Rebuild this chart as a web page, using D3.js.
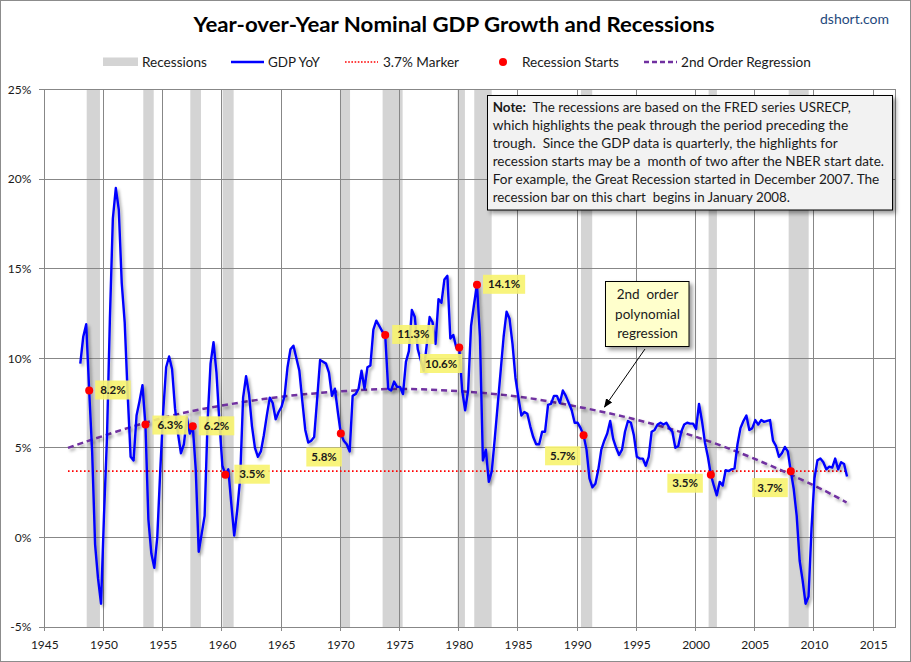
<!DOCTYPE html>
<html><head><meta charset="utf-8">
<script src="https://cdn.jsdelivr.net/npm/d3@7"></script>
<style>
body{margin:0;background:#fff}
svg{display:block}
text{font-family:Lato,"Open Sans",sans-serif;fill:#1a1a1a}
</style>
</head><body>
<svg id="chart" width="911" height="662"></svg>
<script>
// ---------------- DATA ----------------
const startYear = 1948; // first quarter of the series (1948 Q1)
const gdpYoY = [
  9.7, 11.2, 11.9, 8.2,     // 1948
  4.8, -0.4, -2.3, -3.7,    // 1949
  1.2, 5.5, 12.2, 17.8,     // 1950
  19.5, 18.3, 14.2, 12.0,   // 1951
  8.0, 4.5, 4.3, 6.8,       // 1952
  7.6, 8.5, 6.3, 1.0,       // 1953
  -0.9, -1.7, 0.0, 3.7,     // 1954
  7.0, 9.5, 10.1, 9.4,      // 1955
  7.2, 5.8, 4.7, 5.2,       // 1956
  6.7, 5.8, 6.2, 3.8,       // 1957
  -0.8, 0.2, 1.2, 6.5,      // 1958
  9.7, 10.9, 9.2, 6.4,      // 1959
  4.0, 3.5, 3.8, 1.9,       // 1960
  0.1, 1.5, 3.3, 7.8,       // 1961
  9.0, 8.0, 6.2, 5.0,       // 1962
  4.5, 4.8, 5.7, 6.8,       // 1963
  7.8, 7.5, 6.6, 7.0,       // 1964
  7.3, 7.9, 9.5, 10.5,      // 1965
  10.7, 10.0, 9.3, 7.6,     // 1966
  6.0, 5.3, 5.4, 5.6,       // 1967
  7.7, 9.9, 9.8, 9.7,       // 1968
  9.2, 7.9, 8.3, 7.0,       // 1969
  5.8, 5.4, 5.2, 4.8,       // 1970
  7.9, 8.0, 8.3, 9.3,       // 1971
  8.3, 9.5, 9.6, 11.6,      // 1972
  12.1, 11.8, 11.5, 11.3,   // 1973
  8.3, 8.2, 8.7, 8.4,       // 1974
  8.4, 8.0, 9.8, 10.4,      // 1975
  12.7, 12.3, 10.5, 9.9,    // 1976
  9.3, 10.7, 12.3, 12.0,    // 1977
  10.8, 13.3, 13.1, 14.4,   // 1978
  14.6, 11.1, 11.3, 10.6,   // 1979
  10.6, 8.2, 7.1, 8.2,      // 1980
  11.8, 13.0, 14.1, 11.2,   // 1981
  4.3, 4.9, 3.1, 3.7,       // 1982
  5.5, 7.4, 9.3, 11.2,      // 1983
  12.6, 12.2, 10.8, 8.9,    // 1984
  7.8, 6.8, 7.0, 6.9,       // 1985
  6.2, 5.6, 5.2, 5.2,       // 1986
  5.9, 5.9, 7.4, 7.45,      // 1987
  7.9, 7.9, 7.5, 8.2,       // 1988
  7.9, 7.5, 7.1, 6.4,       // 1989
  6.4, 6.1, 5.7, 4.9,       // 1990
  3.3, 2.8, 3.0, 3.8,       // 1991
  4.9, 5.4, 5.8, 6.5,       // 1992
  5.5, 5.0, 4.6, 4.9,       // 1993
  5.9, 6.5, 6.4, 5.7,       // 1994
  4.5, 4.4, 4.4, 4.0,       // 1995
  4.5, 5.9, 6.0, 6.3,       // 1996
  6.4, 6.3, 6.4, 6.1,       // 1997
  5.9, 5.0, 5.1, 5.9,       // 1998
  6.3, 6.4, 6.35, 6.35,     // 1999
  6.05, 7.45, 6.5, 5.3,     // 2000
  4.5, 3.5, 2.9, 2.35,      // 2001
  3.1, 2.9, 3.75, 3.7,      // 2002
  3.8, 3.85, 5.2, 6.1,      // 2003
  6.5, 6.8, 6.0, 6.1,       // 2004
  6.55, 6.3, 6.55, 6.45,    // 2005
  6.5, 6.55, 5.4, 5.1,      // 2006
  4.5, 4.7, 5.05, 4.8,      // 2007
  3.7, 2.7, 1.2, -1.3,      // 2008
  -2.4, -3.7, -3.3, 0.5,    // 2009
  3.3, 4.3, 4.4, 4.2,       // 2010
  3.8, 3.95, 3.9, 4.4,      // 2011
  3.8, 4.2, 4.1, 3.4        // 2012
];
const recessionStart = [1948.58, 1953.36, 1957.33, 1960.06, 1969.97, 1973.57, 1979.90, 1981.31, 1990.32, 2001.10, 2007.86];
const recessionEnd   = [1949.70, 1954.24, 1958.23, 1960.99, 1970.82, 1975.26, 1980.52, 1982.78, 1991.27, 2001.80, 2009.55];
const recStartDates  = [1948.75, 1953.5, 1957.5, 1960.25, 1970.0, 1973.75, 1980.0, 1981.5, 1990.5, 2001.25, 2008.0];
const recStartValues = [8.2, 6.3, 6.2, 3.5, 5.8, 11.3, 10.6, 14.1, 5.7, 3.5, 3.7];
const regYears  = [1947, 1950, 1955, 1960, 1965, 1970, 1975, 1980, 1985, 1990, 1995, 2000, 2005, 2010, 2012.75];
const regValues = [5.0, 5.67, 6.67, 7.36, 7.85, 8.15, 8.29, 8.16, 7.86, 7.3, 6.57, 5.62, 4.38, 2.9, 1.95];
const markerValue = 3.7;
const markerSpan = [1947, 2012.75];
const xTicks = [1945, 1950, 1955, 1960, 1965, 1970, 1975, 1980, 1985, 1990, 1995, 2000, 2005, 2010, 2015];
const yTicks = [-5, 0, 5, 10, 15, 20, 25];
const legendLabels = ["Recessions", "GDP YoY", "3.7% Marker", "Recession Starts", "2nd Order Regression"];
const titleText = "Year-over-Year Nominal GDP Growth and Recessions";
const sourceText = "dshort.com";
const noteLines = [
  "The recessions are based on the FRED series USRECP,",
  "which highlights the peak through the period preceding the",
  "trough.  Since the GDP data is quarterly, the highlights for",
  "recession starts may be a  month of two after the NBER start date.",
  "For example, the Great Recession started in December 2007. The",
  "recession bar on this chart  begins in January 2008."
];
const calloutLines = ["2nd  order", "polynomial", "regression"];

// ---------------- LAYOUT ----------------
const W = 911, H = 662;
const plot = {left: 44.3, right: 895.7, top: 89.5, bottom: 627};
const svg = d3.select("#chart");
const x = d3.scaleLinear().domain([1945, 2016.9]).range([plot.left, plot.right]);
const y = d3.scaleLinear().domain([-5, 25]).range([plot.bottom, plot.top]);
const tOff = 0.04;
const fit = (sel, w) => sel.attr("textLength", w).attr("lengthAdjust", "spacingAndGlyphs");

const defs = svg.append("defs");
const sh = defs.append("filter").attr("id", "shadow").attr("x", "-10%").attr("y", "-10%").attr("width", "130%").attr("height", "130%");
sh.append("feDropShadow").attr("dx", 2).attr("dy", 2.5).attr("stdDeviation", 1.4).attr("flood-color", "#000").attr("flood-opacity", 0.35);
const bsh = defs.append("filter").attr("id", "boxshadow").attr("x", "-10%").attr("y", "-10%").attr("width", "130%").attr("height", "130%");
bsh.append("feDropShadow").attr("dx", 3).attr("dy", 3).attr("stdDeviation", 2).attr("flood-color", "#000").attr("flood-opacity", 0.4);
defs.append("marker").attr("id", "arrow").attr("viewBox", "0 0 10 10").attr("refX", 9).attr("refY", 5)
  .attr("markerWidth", 9).attr("markerHeight", 9).attr("orient", "auto")
  .append("path").attr("d", "M0,1 L10,5 L0,9 Z").attr("fill", "#000");

// outer border
svg.append("rect").attr("x", 0.5).attr("y", 0.5).attr("width", W - 1).attr("height", H - 1)
  .attr("fill", "#fff").attr("stroke", "#8c8c8c");

// title
svg.append("text").attr("x", 454).attr("y", 32).attr("text-anchor", "middle")
  .style("font-size", "21px").style("font-weight", "bold").style("fill", "#000")
  .text(titleText).call(fit, 521);
svg.append("text").attr("x", 820).attr("y", 24).style("font-size", "13.5px").style("fill", "#1f497d")
  .text(sourceText).call(fit, 69);

// recession bars
svg.append("g").selectAll("rect").data(recessionStart).join("rect")
  .attr("x", (d) => x(d)).attr("width", (d, i) => x(recessionEnd[i]) - x(d))
  .attr("y", plot.top).attr("height", plot.bottom - plot.top).attr("fill", "#d4d4d4");

// gridlines
const grid = svg.append("g").attr("stroke", "#878787").attr("stroke-width", 1).attr("shape-rendering", "crispEdges");
grid.selectAll(".h").data(yTicks).join("line").attr("x1", plot.left - 5).attr("x2", plot.right)
  .attr("y1", (d) => y(d)).attr("y2", (d) => y(d));
grid.selectAll(".v").data(xTicks).join("line").attr("y1", plot.top).attr("y2", plot.bottom + 4)
  .attr("x1", (d) => x(d)).attr("x2", (d) => x(d));
grid.append("line").attr("x1", plot.right).attr("x2", plot.right).attr("y1", plot.top).attr("y2", plot.bottom);

// axes labels (through d3 axes)
const yAxis = svg.append("g").attr("transform", `translate(${plot.left - 10},0)`)
  .call(d3.axisLeft(y).tickValues(yTicks).tickFormat((d) => d + "%").tickSize(0));
yAxis.select(".domain").remove();
yAxis.selectAll("text").style("font-size", "12px").style("font-family", "Lato,sans-serif").style("fill", "#1a1a1a");
const xAxis = svg.append("g").attr("transform", `translate(0,${plot.bottom + 10})`)
  .call(d3.axisBottom(x).tickValues(xTicks).tickFormat(d3.format("d")).tickSize(0));
xAxis.select(".domain").remove();
xAxis.selectAll("text").style("font-size", "12px").style("font-family", "Lato,sans-serif").style("fill", "#1a1a1a");

// 3.7% marker
svg.append("line").attr("x1", x(markerSpan[0])).attr("x2", x(markerSpan[1]))
  .attr("y1", y(markerValue)).attr("y2", y(markerValue))
  .attr("stroke", "#ff0000").attr("stroke-width", 1.6).attr("stroke-dasharray", "1.6,2.4");

// regression
const regData = regYears.map((yr, i) => [yr, regValues[i]]);
svg.append("path").datum(regData)
  .attr("d", d3.line().x((d) => x(d[0])).y((d) => y(d[1])).curve(d3.curveNatural))
  .attr("fill", "none").attr("stroke", "#7030a0").attr("stroke-width", 2.5).attr("stroke-dasharray", "6,4")
  .attr("filter", "url(#shadow)");

// GDP line
const gdpData = gdpYoY.map((v, i) => [startYear + i / 4 + tOff, v]);
svg.append("path").datum(gdpData)
  .attr("d", d3.line().x((d) => x(d[0])).y((d) => y(d[1])))
  .attr("fill", "none").attr("stroke", "#0000ff").attr("stroke-width", 2.4).attr("stroke-linejoin", "round")
  .attr("filter", "url(#shadow)");

// recession start dots + labels
const labelLayout = [ // [dx, dy, side] side r: box left at dot+dx, l: box right at dot+dx
  [6, -10, "r"], [7, -9, "r"], [6, -10, "r"], [9, -10, "r"], [1, 14, "l"], [7, -10, "r"],
  [3, 6.5, "l"], [6, -10, "r"], [-3, 11, "l"], [-8, -1, "l"], [-3, 7, "l"]
];
const lab = svg.append("g");
recStartDates.forEach((t, i) => {
  const cx = x(t + tOff), cy = y(recStartValues[i]);
  const g = lab.append("g");
  const txt = g.append("text").style("font-size", "11.5px").style("font-weight", "bold")
    .attr("y", 0).text(recStartValues[i].toFixed(1) + "%");
  const tw = txt.node().getComputedTextLength();
  const bw = tw + 10, bh = 19;
  const L = labelLayout[i];
  const bx = L[2] === "r" ? cx + L[0] : cx + L[0] - bw;
  const by = cy + L[1];
  g.insert("rect", "text").attr("x", bx).attr("y", by).attr("width", bw).attr("height", bh)
    .attr("fill", "#f7f36e").attr("opacity", 0.9);
  txt.attr("x", bx + 5).attr("y", by + 13.5);
  svg.append("circle").attr("cx", cx).attr("cy", cy).attr("r", 4).attr("fill", "#ff0000");
});

// legend
const lg = svg.append("g");
const ly = 62;
lg.append("rect").attr("x", 103).attr("y", 57.5).attr("width", 35).attr("height", 8.5).attr("fill", "#d4d4d4");
lg.append("line").attr("x1", 231).attr("x2", 264).attr("y1", ly).attr("y2", ly).attr("stroke", "#0000ff").attr("stroke-width", 2.4);
lg.append("line").attr("x1", 345).attr("x2", 378).attr("y1", ly).attr("y2", ly).attr("stroke", "#ff0000").attr("stroke-width", 1.5).attr("stroke-dasharray", "1.6,1.6");
lg.append("circle").attr("cx", 503).attr("cy", ly).attr("r", 4).attr("fill", "#ff0000");
lg.append("line").attr("x1", 644).attr("x2", 677).attr("y1", ly).attr("y2", ly).attr("stroke", "#7030a0").attr("stroke-width", 2.4).attr("stroke-dasharray", "5,3");
const legX = [142, 268, 383, 522, 681];
const legW = [65, 52, 76, 97, 130];
legendLabels.forEach((s, i) => {
  lg.append("text").attr("x", legX[i]).attr("y", 66.5).style("font-size", "13px").text(s).call(fit, legW[i]);
});

// note box
const nb = svg.append("g");
nb.append("rect").attr("x", 487.5).attr("y", 95.5).attr("width", 405).attr("height", 114.5)
  .attr("fill", "#f2f2f2").attr("stroke", "#000").attr("stroke-width", 1).attr("filter", "url(#boxshadow)");
const noteW = [358, 355.6, 345, 391.3, 386.6, 297.3];
noteLines.forEach((s, i) => {
  const t = nb.append("text").attr("x", 492.7).attr("y", 112 + i * 18).style("font-size", "13.5px")
    .style("white-space", "pre");
  if (i === 0) {
    t.append("tspan").style("font-weight", "bold").text("Note:");
    t.append("tspan").text("  " + s);
  } else t.text(s);
  t.call(fit, noteW[i]);
});

// callout
const cb = svg.append("g");
cb.append("line").attr("x1", 645).attr("y1", 349).attr("x2", 604.5).attr("y2", 407)
  .attr("stroke", "#000").attr("stroke-width", 1).attr("marker-end", "url(#arrow)");
cb.append("rect").attr("x", 605.5).attr("y", 281.5).attr("width", 83.5).attr("height", 65)
  .attr("fill", "#ffffcc").attr("stroke", "#000").attr("filter", "url(#boxshadow)");
calloutLines.forEach((s, i) => {
  cb.append("text").attr("x", 647.5).attr("y", 299 + i * 19.6).attr("text-anchor", "middle")
    .style("font-size", "13.5px").style("white-space", "pre").text(s);
});
</script>
</body></html>
